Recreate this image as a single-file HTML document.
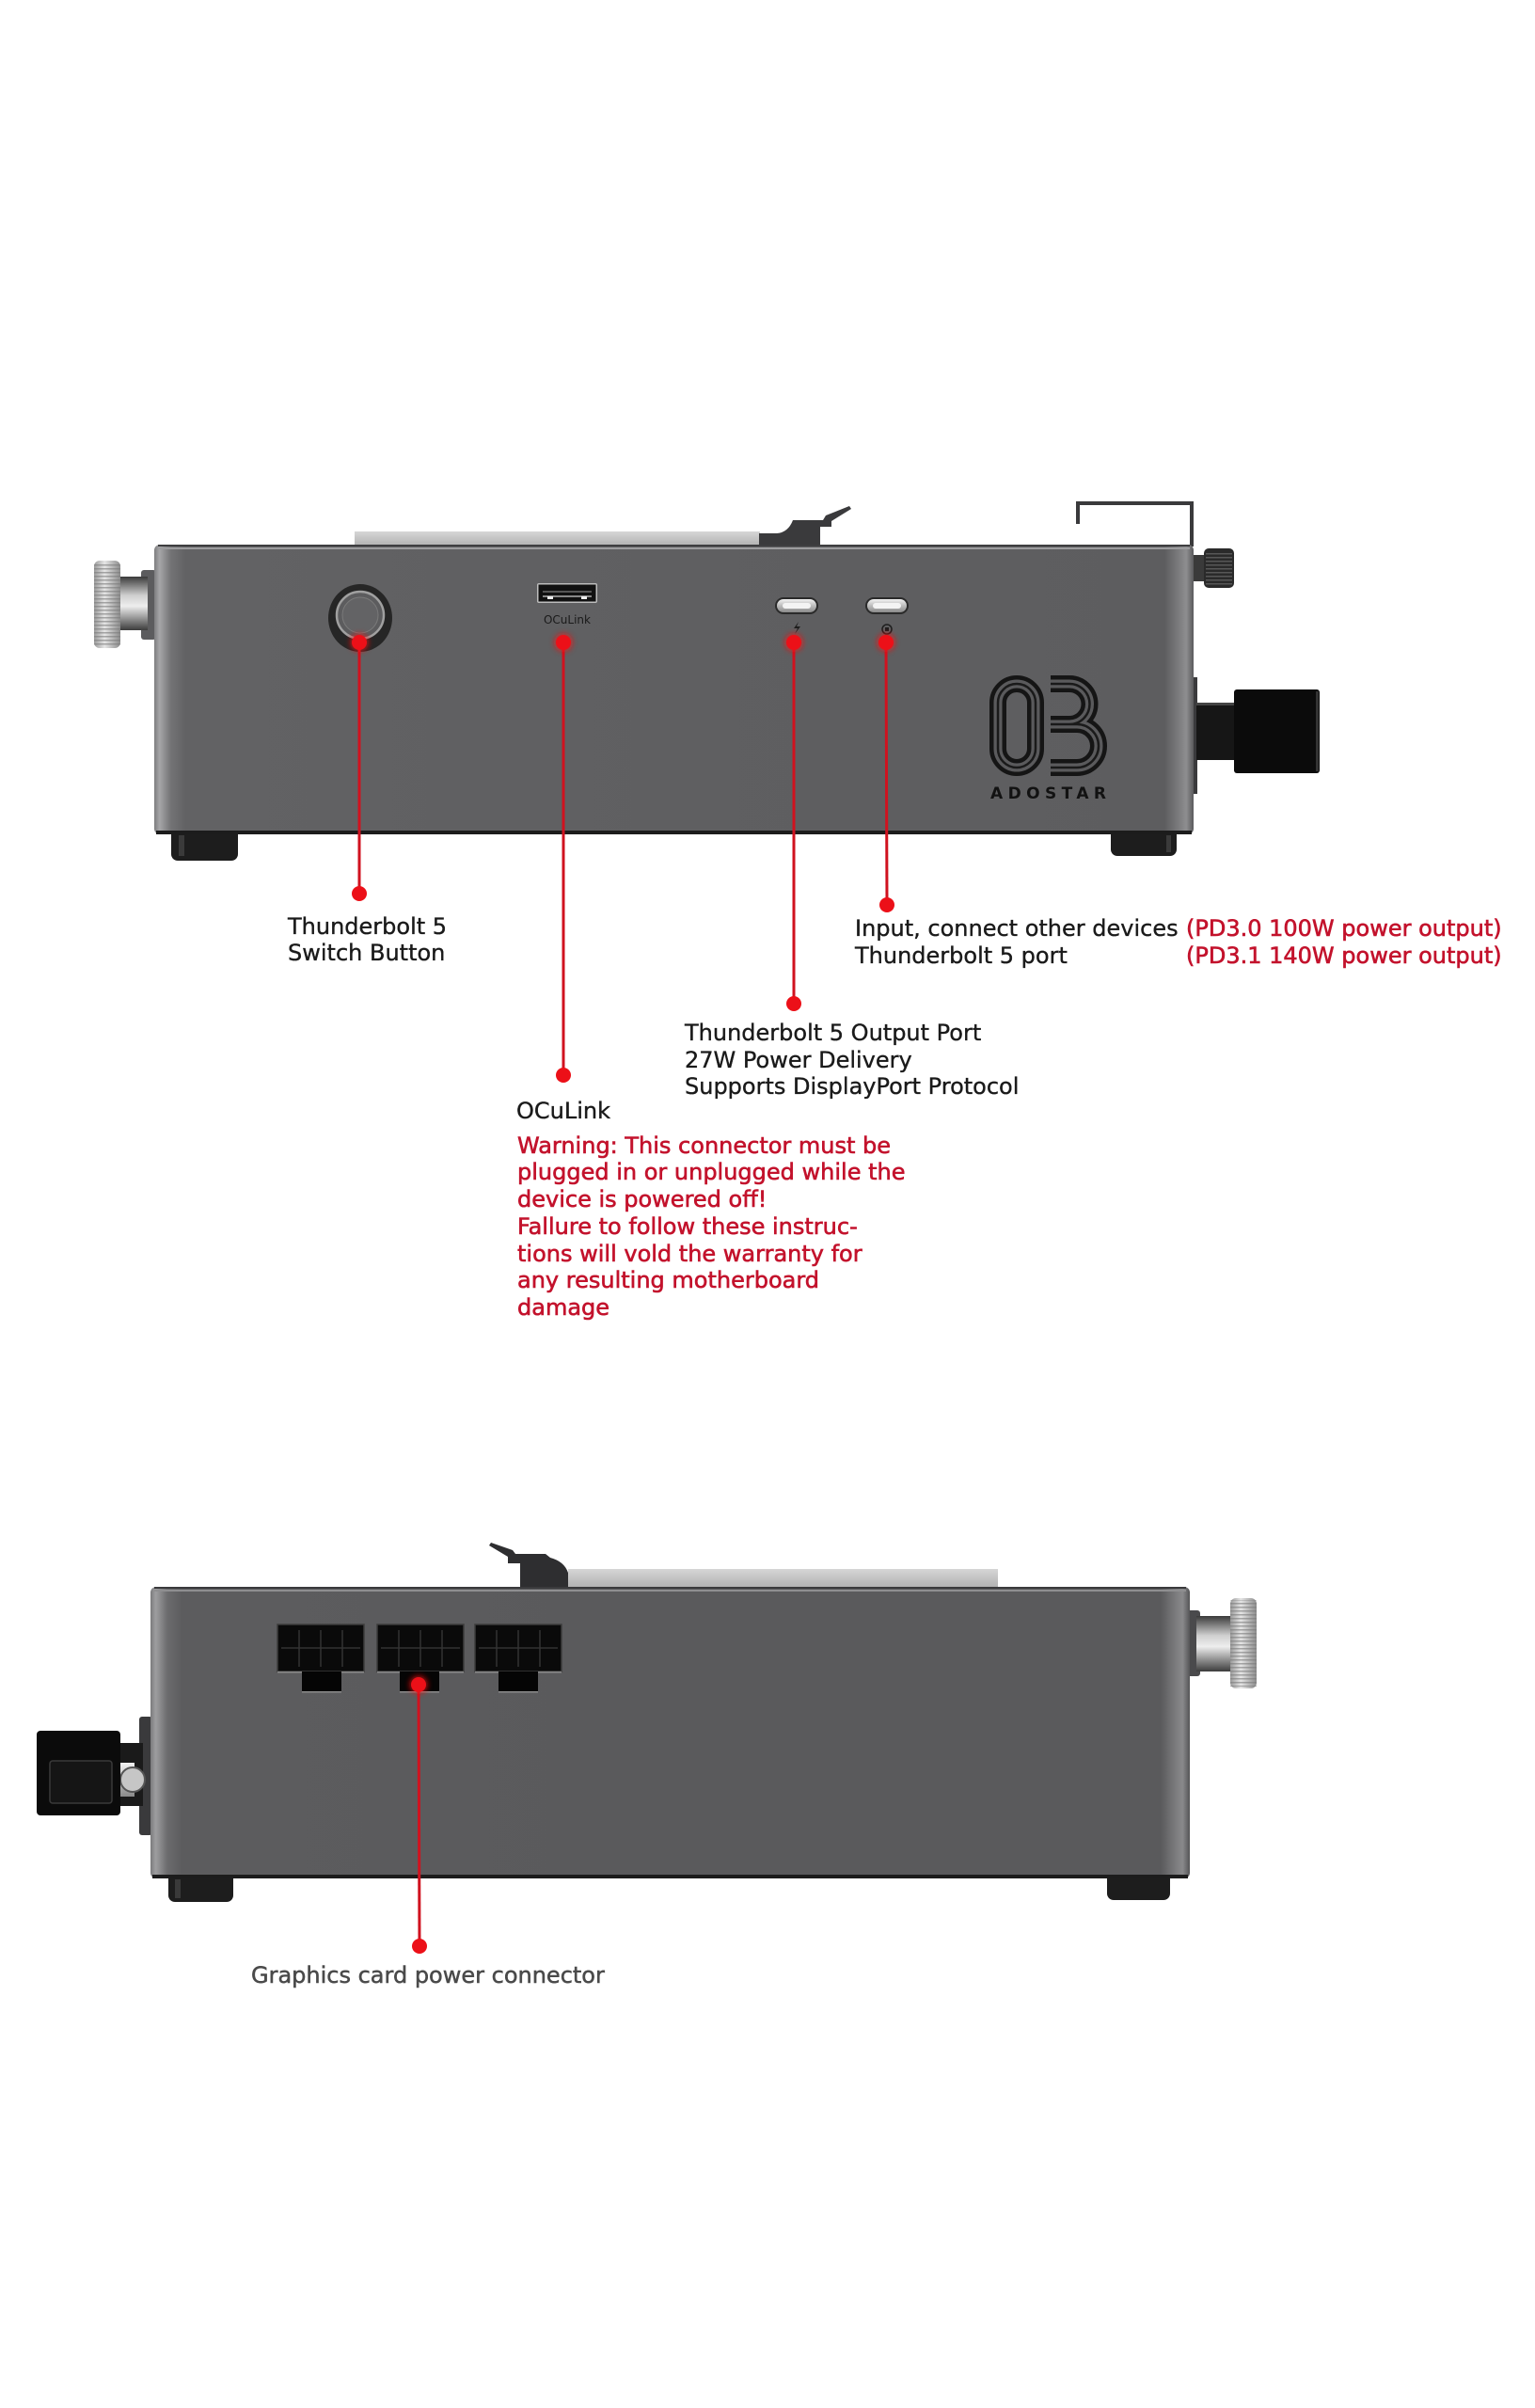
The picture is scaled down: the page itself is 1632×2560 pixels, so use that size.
<!DOCTYPE html>
<html><head><meta charset="utf-8"><style>
html,body{margin:0;padding:0;background:#fff;}
svg{display:block;}
text{font-family:"DejaVu Sans","Liberation Sans",sans-serif;}
</style></head><body>
<svg width="1632" height="2560" viewBox="0 0 1632 2560" xmlns="http://www.w3.org/2000/svg">
<defs>
 <linearGradient id="bodyH" x1="0" x2="1" y1="0" y2="0">
  <stop offset="0" stop-color="#7c7c7e"/>
  <stop offset="0.005" stop-color="#a6a6a8"/>
  <stop offset="0.016" stop-color="#737375"/>
  <stop offset="0.03" stop-color="#626264"/>
  <stop offset="0.5" stop-color="#5f5f61"/>
  <stop offset="0.972" stop-color="#5d5d5f"/>
  <stop offset="0.985" stop-color="#7a7a7c"/>
  <stop offset="0.993" stop-color="#8e8e90"/>
  <stop offset="1" stop-color="#5a5a5c"/>
 </linearGradient>
 <linearGradient id="bodyH2" x1="0" x2="1" y1="0" y2="0">
  <stop offset="0" stop-color="#7a7a7c"/>
  <stop offset="0.005" stop-color="#9e9ea0"/>
  <stop offset="0.016" stop-color="#6c6c6e"/>
  <stop offset="0.03" stop-color="#5c5c5e"/>
  <stop offset="0.5" stop-color="#5a5a5c"/>
  <stop offset="0.972" stop-color="#5a5a5c"/>
  <stop offset="0.985" stop-color="#78787a"/>
  <stop offset="0.993" stop-color="#8a8a8c"/>
  <stop offset="1" stop-color="#555557"/>
 </linearGradient>
 <linearGradient id="plate" x1="0" x2="0" y1="0" y2="1">
  <stop offset="0" stop-color="#d6d6d6"/><stop offset="1" stop-color="#b2b2b2"/>
 </linearGradient>
 <linearGradient id="shaft" x1="0" x2="0" y1="0" y2="1">
  <stop offset="0" stop-color="#3a3a3a"/><stop offset="0.35" stop-color="#cfcfcf"/>
  <stop offset="0.55" stop-color="#eeeeee"/><stop offset="1" stop-color="#3c3c3c"/>
 </linearGradient>
 <linearGradient id="knurlG" x1="0" x2="1" y1="0" y2="0">
  <stop offset="0" stop-color="#9a9a9a"/><stop offset="0.4" stop-color="#e6e6e6"/><stop offset="1" stop-color="#8c8c8c"/>
 </linearGradient>
 <linearGradient id="silver" x1="0" x2="0" y1="0" y2="1">
  <stop offset="0" stop-color="#f2f2f2"/><stop offset="0.5" stop-color="#bcbcbc"/><stop offset="1" stop-color="#8a8a8a"/>
 </linearGradient>
 <pattern id="ribs" width="4" height="4" patternUnits="userSpaceOnUse">
  <rect width="4" height="1.5" fill="#7a7a7a"/>
 </pattern>
 <pattern id="ribsD" width="4" height="4" patternUnits="userSpaceOnUse">
  <rect width="4" height="1.5" fill="#6a6a6a"/>
 </pattern>
 <filter id="glow" x="-1" y="-1" width="3" height="3"><feGaussianBlur stdDeviation="3"/></filter>
</defs>

<rect width="1632" height="2560" fill="#ffffff"/>

<!-- ================= TOP DEVICE ================= -->
<rect x="377" y="565" width="431" height="15" fill="url(#plate)"/>
<path d="M807 580 V567 H826 Q838 566 843 553 H875 L878 548 L903 538 L905 541 L884 554 V560 H872 V580 Z" fill="#3a3a3c"/>
<path d="M1146 557 V535 H1267 V581" fill="none" stroke="#3a3a3c" stroke-width="4"/>
<!-- left knob -->
<rect x="150" y="606" width="16" height="74" rx="3" fill="#5c5c5e"/>
<rect x="127" y="613" width="30" height="57" fill="url(#shaft)"/>
<rect x="100" y="596" width="28" height="93" rx="6" fill="url(#knurlG)"/>
<rect x="100" y="598" width="28" height="89" fill="url(#ribs)" opacity="0.6"/>
<!-- right knob -->
<rect x="1266" y="590" width="16" height="28" fill="#3a3a3a"/>
<rect x="1280" y="583" width="32" height="42" rx="5" fill="#2a2a2a"/>
<rect x="1282" y="586" width="28" height="36" fill="url(#ribsD)" opacity="0.7"/>
<!-- right connector -->
<rect x="1265" y="720" width="8" height="124" fill="#3a3a3c"/>
<rect x="1272" y="747" width="44" height="61" fill="#161616"/>
<rect x="1272" y="747" width="44" height="3" fill="#444"/>
<rect x="1312" y="733" width="91" height="89" rx="3" fill="#0b0b0b"/>
<rect x="1399" y="735" width="3" height="85" fill="#333"/>
<!-- feet -->
<rect x="182" y="880" width="71" height="35" rx="7" fill="#1d1d1d"/>
<rect x="190" y="888" width="6" height="22" fill="#3a3a3a"/>
<rect x="1181" y="880" width="70" height="30" rx="7" fill="#1d1d1d"/>
<rect x="1240" y="888" width="5" height="18" fill="#3a3a3a"/>
<!-- body -->
<rect x="164" y="579" width="1105" height="308" rx="6" fill="url(#bodyH)"/>
<rect x="168" y="579" width="1097" height="2" fill="#3e3e40"/>
<rect x="168" y="582" width="1097" height="2" fill="#9c9c9e"/>
<rect x="166" y="883" width="1101" height="4" fill="#1c1c1c"/>

<!-- power button -->
<ellipse cx="383" cy="657" rx="34" ry="36" fill="#262626"/>
<circle cx="383" cy="654" r="25" fill="#5c5c5e" stroke="#a0a0a0" stroke-width="2.5"/>
<circle cx="383" cy="654" r="19" fill="#636365" stroke="#7a7a7a" stroke-width="1"/>
<!-- oculink -->
<rect x="571" y="620" width="64" height="21" rx="2" fill="#bdbdbd"/>
<rect x="572.5" y="621.5" width="61" height="18" fill="#111"/>
<rect x="577" y="628" width="52" height="2" fill="#555"/>
<rect x="577" y="633" width="52" height="2" fill="#888"/>
<rect x="582" y="634" width="6" height="3" fill="#eee"/>
<rect x="618" y="634" width="6" height="3" fill="#eee"/>
<text x="603" y="663" font-size="12" fill="#1a1a1a" text-anchor="middle">OCuLink</text>
<!-- usb-c ports -->
<rect x="824" y="635" width="46" height="18" rx="9" fill="#2a2a2a"/>
<rect x="826" y="637" width="42" height="14" rx="7" fill="url(#silver)"/>
<rect x="832" y="641" width="30" height="6" rx="3" fill="#f4f4f4"/>
<rect x="920" y="635" width="46" height="18" rx="9" fill="#2a2a2a"/>
<rect x="922" y="637" width="42" height="14" rx="7" fill="url(#silver)"/>
<rect x="928" y="641" width="30" height="6" rx="3" fill="#f4f4f4"/>
<path d="M849 661 L844 668 H848 L845 674 L851 666 H847 Z" fill="#1e1e1e"/>
<circle cx="943" cy="669" r="5" fill="none" stroke="#1e1e1e" stroke-width="1.5"/>
<rect x="941" y="667" width="4" height="4" fill="#1e1e1e"/>

<!-- 03 logo -->
<g fill="none">
 <rect x="1061" y="727" width="40" height="89" rx="20" stroke="#151515" stroke-width="18"/>
 <rect x="1061" y="727" width="40" height="89" rx="20" stroke="#5a5a5c" stroke-width="9"/>
 <rect x="1061" y="727" width="40" height="89" rx="20" stroke="#1a1a1a" stroke-width="2.5"/>
 <path d="M1117 727 H1137 A21.5 21.5 0 0 1 1137 770 H1117 M1137 770 H1145 A23 23 0 0 1 1145 816 H1117" stroke="#151515" stroke-width="18"/>
 <path d="M1117 727 H1137 A21.5 21.5 0 0 1 1137 770 H1117 M1137 770 H1145 A23 23 0 0 1 1145 816 H1117" stroke="#5a5a5c" stroke-width="9"/>
 <path d="M1117 727 H1137 A21.5 21.5 0 0 1 1137 770 H1117 M1137 770 H1145 A23 23 0 0 1 1145 816 H1117" stroke="#1a1a1a" stroke-width="2.5"/>
</g>
<text x="1053" y="849" font-size="17" font-weight="bold" fill="#121212" textLength="123" lengthAdjust="spacing">ADOSTAR</text>

<!-- ================= BOTTOM DEVICE ================= -->
<rect x="604" y="1668" width="457" height="19" fill="url(#plate)"/>
<path d="M604 1687 V1672 Q600 1660 585 1656 L580 1652 H548 L545 1648 L522 1640 L520 1643 L540 1655 V1662 H553 V1687 Z" fill="#2e2e30"/>
<rect x="1262" y="1712" width="14" height="70" rx="3" fill="#4a4a4c"/>
<rect x="1272" y="1718" width="40" height="59" fill="url(#shaft)"/>
<rect x="1308" y="1699" width="28" height="96" rx="6" fill="url(#knurlG)"/>
<rect x="1308" y="1701" width="28" height="92" fill="url(#ribs)" opacity="0.6"/>
<rect x="148" y="1825" width="14" height="126" rx="3" fill="#3a3a3c"/>
<rect x="120" y="1853" width="32" height="67" fill="#1a1a1a"/>
<rect x="119" y="1874" width="24" height="36" fill="url(#silver)"/>
<circle cx="141" cy="1892" r="13" fill="#c6c6c6" stroke="#555" stroke-width="2"/>
<rect x="39" y="1840" width="89" height="90" rx="4" fill="#0b0b0b"/>
<rect x="53" y="1872" width="66" height="45" rx="3" fill="#151515" stroke="#3a3a3a" stroke-width="1.5"/>
<rect x="179" y="1990" width="69" height="32" rx="7" fill="#1d1d1d"/>
<rect x="186" y="1998" width="6" height="20" fill="#3a3a3a"/>
<rect x="1177" y="1990" width="67" height="30" rx="7" fill="#1d1d1d"/>
<rect x="160" y="1687" width="1105" height="310" rx="6" fill="url(#bodyH2)"/>
<rect x="164" y="1687" width="1097" height="2" fill="#3a3a3c"/>
<rect x="164" y="1690" width="1097" height="2" fill="#8e8e90"/>
<rect x="162" y="1993" width="1101" height="4" fill="#1c1c1c"/>

<g>
 <rect x="295" y="1727" width="92" height="50" fill="#0a0a0a" stroke="#3c3c3c" stroke-width="1.5"/>
 <path d="M299 1752 H383 M318 1733 V1772 M341 1733 V1772 M364 1733 V1772" stroke="#333" stroke-width="1.5"/>
 <rect x="295" y="1777" width="92" height="1.5" fill="#8a8a8a"/>
 <rect x="321" y="1777" width="42" height="21" fill="#050505"/>
 <rect x="321" y="1798" width="42" height="1.5" fill="#8a8a8a"/>

 <rect x="401" y="1727" width="92" height="50" fill="#0a0a0a" stroke="#3c3c3c" stroke-width="1.5"/>
 <path d="M405 1752 H489 M424 1733 V1772 M447 1733 V1772 M470 1733 V1772" stroke="#333" stroke-width="1.5"/>
 <rect x="401" y="1777" width="92" height="1.5" fill="#8a8a8a"/>
 <rect x="425" y="1777" width="42" height="21" fill="#050505"/>
 <rect x="425" y="1798" width="42" height="1.5" fill="#8a8a8a"/>

 <rect x="505" y="1727" width="92" height="50" fill="#0a0a0a" stroke="#3c3c3c" stroke-width="1.5"/>
 <path d="M509 1752 H593 M528 1733 V1772 M551 1733 V1772 M574 1733 V1772" stroke="#333" stroke-width="1.5"/>
 <rect x="505" y="1777" width="92" height="1.5" fill="#8a8a8a"/>
 <rect x="530" y="1777" width="42" height="21" fill="#050505"/>
 <rect x="530" y="1798" width="42" height="1.5" fill="#8a8a8a"/>
</g>

<!-- ================= LEADER LINES ================= -->
<g stroke="#d0121f" stroke-width="3">
 <line x1="382" y1="683" x2="382" y2="950"/>
 <line x1="599" y1="683" x2="599" y2="1143"/>
 <line x1="844" y1="683" x2="844" y2="1067"/>
 <line x1="942" y1="683" x2="943" y2="962"/>
 <line x1="445" y1="1791" x2="446" y2="2069"/>
</g>
<g fill="#ff1010" opacity="0.6" filter="url(#glow)">
 <circle cx="382" cy="683" r="10"/><circle cx="599" cy="683" r="10"/>
 <circle cx="844" cy="683" r="10"/><circle cx="942" cy="683" r="10"/>
 <circle cx="445" cy="1791" r="10"/>
</g>
<g fill="#ec1018">
 <circle cx="382" cy="683" r="8"/><circle cx="599" cy="683" r="8"/>
 <circle cx="844" cy="683" r="8"/><circle cx="942" cy="683" r="8"/>
 <circle cx="445" cy="1791" r="8"/>
 <circle cx="382" cy="950" r="8"/><circle cx="599" cy="1143" r="8"/>
 <circle cx="844" cy="1067" r="8"/><circle cx="943" cy="962" r="8"/>
 <circle cx="446" cy="2069" r="8"/>
</g>

<!-- ================= LABELS ================= -->
<g font-size="24" fill="#1a1a1a" stroke="#1a1a1a" stroke-width="0.35">
 <text x="306" y="993">Thunderbolt 5</text>
 <text x="306" y="1021">Switch Button</text>
 <text x="909" y="995">Input, connect other devices</text>
 <text x="909" y="1024">Thunderbolt 5 port</text>
 <text x="728" y="1106">Thunderbolt 5 Output Port</text>
 <text x="728" y="1135">27W Power Delivery</text>
 <text x="728" y="1163">Supports DisplayPort Protocol</text>
 <text x="549" y="1189">OCuLink</text>
</g>
<g font-size="24" fill="#c3122c" stroke="#c3122c" stroke-width="0.6">
 <text x="1261" y="995">(PD3.0 100W power output)</text>
 <text x="1261" y="1024">(PD3.1 140W power output)</text>
 <text x="550" y="1226">Warning: This connector must be</text>
 <text x="550" y="1254">plugged in or unplugged while the</text>
 <text x="550" y="1283">device is powered off!</text>
 <text x="550" y="1312">Fallure to follow these instruc-</text>
 <text x="550" y="1341">tions will vold the warranty for</text>
 <text x="550" y="1369">any resulting motherboard</text>
 <text x="550" y="1398">damage</text>
</g>
<text x="267" y="2108" font-size="24" fill="#4a4a4a" stroke="#4a4a4a" stroke-width="0.5">Graphics card power connector</text>
</svg>
</body></html>
